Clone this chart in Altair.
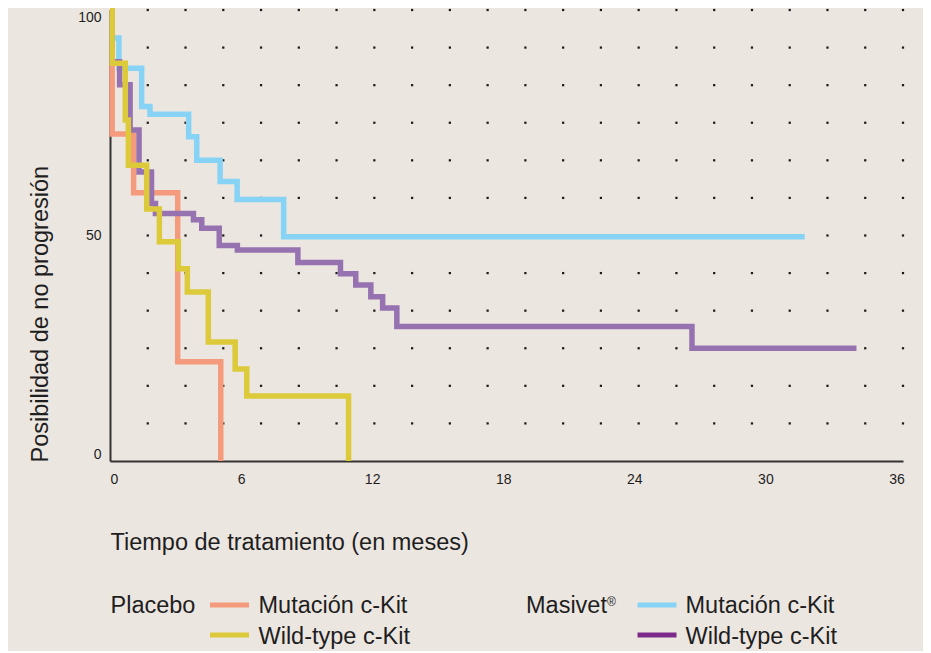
import altair as alt
import pandas as pd
import numpy as np

# ---- data ----
# Placebo – Mutación c-Kit
pm_t = [0, 0.10, 1.08, 3.10, 5.07]
pm_s = [100, 72.5, 59.5, 22.0, 0]
# Placebo – Wild-type c-Kit
pw_t = [0, 0.10, 0.70, 0.84, 1.68, 2.26, 3.13, 3.54, 4.50, 5.73, 6.26, 10.92]
pw_s = [100, 88.2, 75.6, 65.6, 55.9, 48.6, 42.6, 37.5, 26.4, 20.4, 14.4, 0]
# Masivet – Mutación c-Kit
mm_t = [0, 0.09, 0.41, 1.45, 1.83, 3.60, 3.97, 5.04, 5.82, 7.95, 31.8]
mm_s = [100, 93.8, 87.1, 78.6, 76.9, 71.9, 66.7, 62.0, 58.0, 49.7, 49.7]
# Masivet – Wild-type c-Kit
mw_t = [0, 0.09, 0.44, 0.92, 1.33, 1.90, 2.08, 3.82, 4.20, 5.00, 5.83, 8.60,
        10.55, 11.25, 11.94, 12.48, 13.13, 26.64, 34.17]
mw_s = [100, 88.5, 83.4, 73.4, 64.1, 57.1, 54.9, 53.5, 51.6, 47.8, 46.8, 44.0,
        41.5, 39.0, 36.4, 33.9, 29.8, 25.0, 25.0]

series_names = ["Placebo Mutación c-Kit", "Placebo Wild-type c-Kit",
                "Masivet Mutación c-Kit", "Masivet Wild-type c-Kit"]
series_colors = ["#F59B7D", "#DCCA3B", "#87D3F6", "#9672B0"]
legend_swatch_colors = ["#F59B7D", "#DCCA3B", "#87D3F6", "#7B2A8A"]

x_ticks = [0, 6, 12, 18, 24, 30, 36]
y_ticks = [0, 50, 100]

FONT = "Liberation Sans"
BG = "#ECE6E1"
TXT = "#1E1E1E"
FS = 23.5

rows = []
for name, ts, ss in zip(series_names, [pm_t, pw_t, mm_t, mw_t], [pm_s, pw_s, mm_s, mw_s]):
    for t, s in zip(ts, ss):
        rows.append({"series": name, "t": t, "s": s})
df = pd.DataFrame(rows)

X_MAX = 36.3
xs = alt.Scale(domain=[0, X_MAX], nice=False, zero=False)
ys = alt.Scale(domain=[0, 100], nice=False)

# decorative dot pattern
gx = np.arange(1, 22) * X_MAX / 21
gy = np.arange(1, 13) * 100 / 12
grid = pd.DataFrame([{"gx": a, "gy": b} for a in gx for b in gy])

dots = alt.Chart(grid).mark_square(size=5, color="#1A1A1A", opacity=1).encode(
    x=alt.X("gx:Q", scale=xs,
            axis=alt.Axis(values=x_ticks, title="Tiempo de tratamiento (en meses)",
                          ticks=False, grid=False, domainColor="#333333", domainWidth=2,
                          labelFont=FONT, labelFontSize=14, labelColor=TXT, labelPadding=11,
                          titleFont=FONT, titleFontSize=FS, titleFontWeight="normal",
                          titleColor=TXT, titleX=0, titleY=81, titleAlign="left",
                          titleBaseline="middle")),
    y=alt.Y("gy:Q", scale=ys,
            axis=alt.Axis(values=y_ticks, title="Posibilidad de no progresión",
                          ticks=False, grid=False, domainColor="#333333", domainWidth=2,
                          labelFont=FONT, labelFontSize=14, labelColor=TXT, labelPadding=9,
                          labelFlush=True,
                          titleFont=FONT, titleFontSize=FS, titleFontWeight="normal",
                          titleColor=TXT, titleAngle=270, titleX=-70, titleY=452,
                          titleAlign="left", titleBaseline="middle")),
)

color = alt.Color("series:N", scale=alt.Scale(domain=series_names, range=series_colors),
                  legend=None)
base = alt.Chart(df).mark_line(interpolate="step-after", strokeWidth=5.5,
                               strokeJoin="miter", strokeCap="butt").encode(
    x=alt.X("t:Q", scale=xs),
    y=alt.Y("s:Q", scale=ys),
    color=color,
)
draw_order = [0, 2, 3, 1]
line_layers = [base.transform_filter(alt.datum.series == series_names[i]) for i in draw_order]

# ---- manual legend ----
one = pd.DataFrame({"k": [0]})
def text(label, x, y, size=FS):
    return alt.Chart(one).mark_text(text=label, font=FONT, fontSize=size, color=TXT,
                                     align="left", baseline="alphabetic").encode(
        x=alt.value(x), y=alt.value(y))

def swatch(col, x, y):
    return alt.Chart(one).mark_rule(color=col, strokeWidth=5).encode(
        x=alt.value(x), x2=alt.value(x + 39), y=alt.value(y))

legend_layers = [
    text("Placebo", 0.5, 602.7),
    swatch(legend_swatch_colors[0], 100, 595),
    text("Mutación c-Kit", 148.5, 602.7),
    swatch(legend_swatch_colors[1], 100, 625),
    text("Wild-type c-Kit", 148.5, 634.3),
    text("Masivet", 416, 602.7),
    text("®", 497, 596, size=12),
    swatch(legend_swatch_colors[2], 527.5, 595),
    text("Mutación c-Kit", 575.5, 602.7),
    swatch(legend_swatch_colors[3], 527.5, 625),
    text("Wild-type c-Kit", 575.5, 634.3),
]

chart = alt.layer(dots, *line_layers, *legend_layers).properties(
    width=793, height=451,
    padding={"left": 102, "top": 2, "right": 20, "bottom": 190},
    autosize=alt.AutoSizeParams(type="none"),
    background=BG,
    usermeta={"embedOptions": {
        "defaultStyle": "html, body { background: #ECE6E1 !important; } #vis { background: #ECE6E1; }"
    }},
).configure_view(stroke=None)

chart.save("out.html", embed_options={"renderer": "svg", "actions": False})
